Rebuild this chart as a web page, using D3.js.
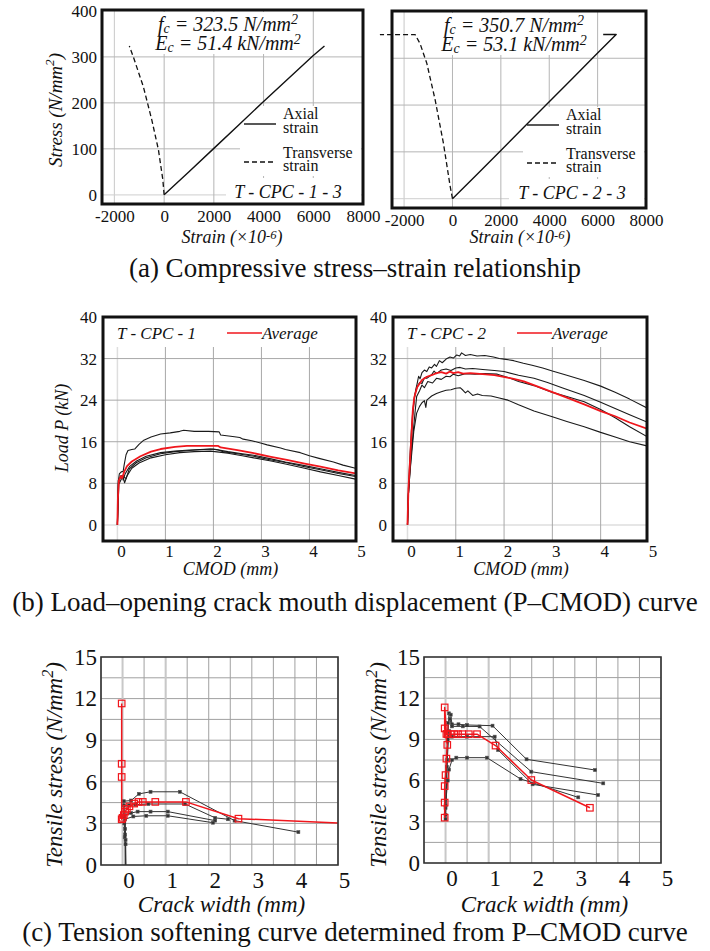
<!DOCTYPE html>
<html><head><meta charset="utf-8">
<script src="https://cdn.jsdelivr.net/npm/d3@7"></script>
<style>
body{margin:0;background:#fff}
svg{display:block}
text{font-family:"Liberation Serif","Times New Roman",serif;fill:#111}
</style>
</head><body>
<svg id="chart" width="710" height="951" font-family="Liberation Serif, Times New Roman, serif"></svg>
<script>
// ---------- DATA ----------
// (a) compressive stress–strain
const strainTicks = [-2000, 0, 2000, 4000, 6000, 8000];
const stressTicks = [0, 100, 200, 300, 400];
const axial13 = [[0,0],[1000,50],[2000,101],[3000,152],[4000,203],[5000,253],[6000,303],[6450,323.5]];
const trans13 = [[0,0],[-53,33],[-230,98],[-497,163],[-836,235],[-1240,300],[-1400,323.5]];
const axial23 = [[0,0],[1000,51],[2000,103],[3000,155],[4000,207],[5000,259],[6000,311],[6766,350.7],[6230,350.7]];
const trans23 = [[0,0],[-95,26],[-373,118],[-716,211],[-1060,289],[-1337,331],[-1545,350.7],[-3000,350.7]];

// (b) P–CMOD
const cmodTicks = [0, 1, 2, 3, 4, 5];
const loadTicks = [0, 8, 16, 24, 32, 40];
const cpc1S1 = [[0,0],[0.01,5],[0.02,8.5],[0.04,9.8],[0.08,10.2],[0.12,10.3],[0.14,11.5],[0.18,13.5],[0.22,14.3],[0.3,14.5],[0.36,14.6],[0.45,15.5],[0.55,16.3],[0.7,16.9],[0.9,17.5],[1.1,17.7],[1.3,18.0],[1.38,18.2],[1.6,18.0],[1.9,18.0],[2.12,17.9],[2.15,17.3],[2.4,17.0],[2.55,16.8],[2.62,16.5],[2.8,16.2],[3.0,15.7],[3.12,15.4],[3.4,14.8],[3.5,14.5],[3.81,13.9],[4.0,13.3],[4.2,12.8],[4.5,12.1],[4.7,11.5],[4.96,10.9]];
const cpc1S2 = [[0,0],[0.02,8.0],[0.06,9.3],[0.1,9.5],[0.12,8.6],[0.16,9.8],[0.25,11.2],[0.4,12.3],[0.6,13.2],[0.9,13.9],[1.2,14.2],[1.5,14.4],[1.94,14.6],[2.1,14.4],[2.2,14.1],[2.5,13.7],[2.84,13.2],[3.2,12.5],[3.5,12.0],[3.9,11.2],[4.23,10.6],[4.6,9.9],[4.96,9.3]];
const cpc1S3 = [[0,0],[0.03,7.8],[0.08,8.8],[0.12,9.2],[0.15,8.1],[0.2,9.4],[0.3,10.9],[0.45,11.9],[0.7,12.9],[1.0,13.5],[1.3,13.9],[1.6,14.1],[1.94,14.2],[2.3,13.8],[2.6,13.3],[2.84,12.9],[3.2,12.3],[3.5,11.7],[3.9,10.9],[4.23,10.2],[4.6,9.5],[4.96,8.8]];
const cpc1S4 = [[0,0],[0.02,8.6],[0.07,9.2],[0.12,9.4],[0.18,8.9],[0.25,10.8],[0.4,12.0],[0.6,12.9],[0.9,13.7],[1.2,14.1],[1.5,14.3],[1.8,14.5],[2.0,14.6],[2.3,14.1],[2.6,13.7],[2.84,13.4],[3.2,12.7],[3.5,12.1],[3.9,11.4],[4.23,10.8],[4.6,10.1],[4.96,9.5]];
const cpc1Avg = [[0,0],[0.01,5],[0.03,8.5],[0.07,9.4],[0.1,9.0],[0.14,10.2],[0.2,11.3],[0.3,12.2],[0.48,13.2],[0.7,14.1],[0.9,14.6],[1.2,15.0],[1.45,15.2],[1.8,15.2],[2.1,15.2],[2.15,14.9],[2.5,14.4],[2.84,13.8],[3.2,13.1],[3.53,12.5],[3.9,11.8],[4.23,11.2],[4.6,10.5],[4.96,9.9]];
const cpc2S1 = [[0,0],[0.02,6],[0.05,11],[0.08,16],[0.11,21],[0.14,24],[0.17,26],[0.2,27.2],[0.23,28.6],[0.26,28.1],[0.3,29.3],[0.35,29.8],[0.4,29.5],[0.45,30.4],[0.5,30.2],[0.56,30.9],[0.6,30.5],[0.66,31.6],[0.72,31.2],[0.8,31.9],[0.88,32.3],[0.95,32.1],[1.02,32.7],[1.08,32.5],[1.12,33.1],[1.2,32.6],[1.3,32.8],[1.44,32.5],[1.6,32.6],[1.78,32.3],[1.9,32.0],[2.0,31.9],[2.2,31.6],[2.4,31.1],[2.58,30.7],[2.8,30.2],[3.0,29.6],[3.3,28.8],[3.66,27.8],[4.0,26.7],[4.3,25.5],[4.6,24.2],[4.96,22.5]];
const cpc2S2 = [[0,0],[0.02,7],[0.05,13],[0.08,18],[0.11,22],[0.15,25],[0.2,26.5],[0.25,27.4],[0.3,27.2],[0.35,28.3],[0.4,28.2],[0.5,28.9],[0.55,29.6],[0.6,29.1],[0.7,29.8],[0.8,30.0],[0.9,29.7],[1.0,30.2],[1.09,30.3],[1.2,30.0],[1.35,30.1],[1.56,29.9],[1.8,29.7],[2.0,29.5],[2.3,28.8],[2.62,28.2],[2.9,27.4],[3.2,26.4],[3.66,24.9],[4.0,23.6],[4.3,22.4],[4.6,21.2],[4.96,19.8]];
const cpc2S3 = [[0,0],[0.02,6],[0.05,10],[0.08,14],[0.12,18],[0.16,22],[0.19,24.7],[0.25,25.8],[0.3,26.9],[0.35,26.4],[0.42,27.6],[0.52,27.3],[0.6,28.2],[0.7,28.0],[0.8,28.6],[0.88,28.5],[0.95,29.0],[1.05,28.7],[1.2,29.1],[1.4,29.0],[1.6,29.1],[1.86,29.0],[2.1,28.3],[2.3,27.6],[2.62,26.8],[3.0,25.5],[3.3,24.7],[3.66,23.7],[4.0,22.2],[4.3,20.6],[4.6,18.9],[4.96,17.0]];
const cpc2S4 = [[0,0],[0.02,6],[0.05,10],[0.09,14],[0.13,18],[0.19,21.5],[0.25,22.8],[0.3,23.5],[0.35,23.9],[0.38,22.6],[0.4,24.0],[0.5,24.8],[0.6,25.3],[0.7,25.6],[0.8,25.9],[0.9,26.0],[1.0,26.3],[1.09,26.4],[1.15,25.9],[1.2,25.4],[1.25,25.8],[1.35,24.9],[1.45,25.2],[1.55,24.9],[1.73,24.8],[1.9,24.4],[2.08,24.0],[2.3,23.1],[2.62,21.9],[3.0,20.8],[3.3,19.9],[3.66,18.9],[4.0,17.8],[4.3,16.9],[4.6,16.0],[4.96,15.2]];
const cpc2Avg = [[0,0],[0.02,7],[0.05,12],[0.08,17],[0.11,22],[0.14,24.5],[0.2,26.5],[0.3,27.9],[0.4,28.5],[0.5,28.8],[0.6,29.2],[0.7,29.4],[0.8,29.1],[0.88,29.5],[0.95,29.2],[1.05,29.4],[1.15,29.1],[1.3,29.2],[1.56,29.0],[1.8,28.8],[1.99,28.5],[2.2,28.1],[2.41,27.6],[2.7,26.6],[2.96,25.7],[3.3,24.5],[3.66,23.2],[4.0,21.9],[4.3,20.9],[4.6,19.7],[4.96,18.5]];

// (c) tension softening
const crackTicks = [0, 1, 2, 3, 4, 5];
const tensileTicks = [0, 3, 6, 9, 12, 15];
const soft1A = [[0.07,0],[0.07,1.5],[0.05,2.0],[0.04,3.0],[0.03,4.6],[0.2,4.65],[0.38,5.13],[0.65,5.28],[1.33,5.28],[2.6,3.2],[4.08,2.37]];
const soft1B = [[0.06,0],[0.06,2.2],[0.04,3.5],[0.03,4.3],[0.15,4.3],[0.3,4.35],[0.6,4.4],[1.45,4.4],[2.15,3.4],[2.45,3.3]];
const soft1C = [[0.07,0],[0.06,2.6],[0.05,3.6],[0.2,3.75],[0.35,3.85],[0.65,3.85],[1.05,3.85],[2.15,3.2]];
const soft1D = [[0.08,0],[0.07,1.8],[0.06,3.3],[0.25,3.5],[0.55,3.55],[1.05,3.55],[2.1,3.05]];
const soft1Avg = [[-0.02,11.65],[-0.02,7.3],[-0.02,6.35],[-0.02,3.3],[0.0,3.4],[0.03,3.6],[0.06,3.85],[0.1,4.05],[0.16,4.23],[0.27,4.43],[0.37,4.55],[0.47,4.55],[0.76,4.55],[1.47,4.55],[2.69,3.34],[5.0,3.03]];
const soft2A = [[0,3.2],[0.02,6],[0.05,9],[0.08,10.9],[0.12,10.8],[0.15,10.1],[0.3,10.1],[0.5,10.05],[1.09,10.0],[1.88,7.55],[3.47,6.77]];
const soft2B = [[0,3.5],[0.03,7],[0.06,10.2],[0.1,10.5],[0.15,9.95],[0.4,9.95],[0.79,9.94],[1.99,6.65],[3.66,5.8]];
const soft2C = [[0,4],[0.04,7.5],[0.08,9.6],[0.15,9.2],[0.5,9.2],[1.14,9.2],[1.22,8.23],[2.02,5.73],[3.54,4.95]];
const soft2D = [[0,4.2],[0.05,6.0],[0.08,6.8],[0.15,7.5],[0.25,7.67],[0.5,7.67],[0.96,7.67],[1.74,6.12],[3.08,4.78]];
const soft2Avg = [[-0.02,3.3],[-0.02,4.4],[-0.02,5.6],[0,6.4],[0.02,7.6],[0.04,8.6],[-0.02,9.8],[-0.02,11.33],[0.02,9.4],[0.05,9.38],[0.12,9.38],[0.2,9.38],[0.29,9.38],[0.39,9.38],[0.54,9.38],[0.73,9.38],[1.16,8.55],[1.99,6.04],[3.35,4.02]];

// ---------- DRAWING ----------
const RED = "#f0161c";
const SERIF = '"Liberation Serif","Times New Roman",serif';
const svg = d3.select("#chart");
let clipN = 0;

function makePanel(o) {
  const x = d3.scaleLinear().domain(o.xd).range([o.x0, o.x1]);
  const y = d3.scaleLinear().domain(o.yd).range([o.y1, o.y0]);
  const id = "clip" + (clipN++);
  svg.append("clipPath").attr("id", id).append("rect")
    .attr("x", o.x0).attr("y", o.y0).attr("width", o.x1 - o.x0).attr("height", o.y1 - o.y0);
  const g = svg.append("g");
  return { x, y, g, o, clip: `url(#${id})` };
}
function vgrid(p, vals, color, w) {
  p.g.append("g").selectAll("line").data(vals).join("line")
    .attr("x1", d => p.x(d)).attr("x2", d => p.x(d))
    .attr("y1", p.o.y0).attr("y2", p.o.y1)
    .attr("stroke", color).attr("stroke-width", w);
}
function hgrid(p, vals, color, w) {
  p.g.append("g").selectAll("line").data(vals).join("line")
    .attr("y1", d => p.y(d)).attr("y2", d => p.y(d))
    .attr("x1", p.o.x0).attr("x2", p.o.x1)
    .attr("stroke", color).attr("stroke-width", w);
}
function whiteBox(p, x, y, w, h) {
  p.g.append("rect").attr("x", x).attr("y", y).attr("width", w).attr("height", h).attr("fill", "#fff");
}
function curve(p, data, color, w, dash, clip) {
  const line = d3.line().x(d => p.x(d[0])).y(d => p.y(d[1]));
  const path = p.g.append("path").datum(data).attr("d", line)
    .attr("fill", "none").attr("stroke", color).attr("stroke-width", w)
    .attr("stroke-linejoin", "round");
  if (dash) path.attr("stroke-dasharray", dash);
  if (clip) path.attr("clip-path", p.clip);
}
function markers(p, data, size, stroke, fill, sw) {
  p.g.append("g").selectAll("rect").data(data).join("rect")
    .attr("x", d => p.x(d[0]) - size / 2).attr("y", d => p.y(d[1]) - size / 2)
    .attr("width", size).attr("height", size)
    .attr("fill", fill).attr("stroke", stroke).attr("stroke-width", sw);
}
function frame(p, color, w) {
  p.g.append("rect").attr("x", p.o.x0).attr("y", p.o.y0)
    .attr("width", p.o.x1 - p.o.x0).attr("height", p.o.y1 - p.o.y0)
    .attr("fill", "none").attr("stroke", color).attr("stroke-width", w);
}
function styleAxis(a, size) {
  a.attr("font-family", SERIF).attr("font-size", size);
  a.select(".domain").remove();
  a.selectAll("text").attr("font-size", size).style("font-family", SERIF).attr("fill", "#111");
}
function xAxis(p, vals, size, pad, shift) {
  const ax = d3.axisBottom(p.x).tickValues(vals).tickSize(0).tickPadding(pad).tickFormat(d => String(d));
  const a = p.g.append("g").attr("transform", `translate(0,${p.o.y1})`).call(ax);
  styleAxis(a, size);
  if (shift) a.selectAll("text").attr("dx", shift);
}
function yAxis(p, vals, size, pad) {
  const a = p.g.append("g").attr("transform", `translate(${p.o.x0},0)`)
    .call(d3.axisLeft(p.y).tickValues(vals).tickSize(0).tickPadding(pad).tickFormat(d => String(d)));
  styleAxis(a, size);
}
// rich text: parts = [[text, kind]] kind: "", "sub", "sup"
function rich(parent, x, y, size, parts, opts = {}) {
  const t = parent.append("text").attr("x", x).attr("y", y).attr("font-size", size)
    .attr("text-anchor", opts.anchor || "middle").style("font-family", SERIF);
  if (opts.italic) t.attr("font-style", "italic");
  if (opts.rotate) t.attr("transform", `rotate(-90,${x},${y})`);
  let shift = 0;
  const supUp = opts.supUp != null ? opts.supUp : 0.4;
  const subDown = opts.subDown != null ? opts.subDown : 0.22;
  parts.forEach(([s, k]) => {
    const ts = t.append("tspan").text(s);
    let target = 0;
    if (k === "sub") { target = size * subDown; ts.attr("font-size", size * 0.7); }
    if (k === "sup") { target = -size * supUp; ts.attr("font-size", size * 0.7); }
    if (target !== shift) { ts.attr("dy", target - shift); shift = target; }
  });
  return t;
}
function plainText(x, y, size, s, opts = {}) {
  const t = svg.append("text").attr("x", x).attr("y", y).attr("font-size", size)
    .attr("text-anchor", opts.anchor || "start").style("font-family", SERIF).text(s);
  if (opts.italic) t.attr("font-style", "italic");
  return t;
}

// ===== (a) =====
function panelA(o, axial, trans, ann1, ann2, label, showY) {
  const p = makePanel(o);
  hgrid(p, [stressTicks[0]], "#d8d8d8", 1.2);
  vgrid(p, [strainTicks[0]], "#d0d0d0", 1.2);
  vgrid(p, strainTicks.slice(1, 5), "#b5b5b5", 1);
  hgrid(p, stressTicks.slice(1, 4), "#b5b5b5", 1);
  const lx = o.legX;
  whiteBox(p, o.annX - 80, o.y0 + 2, 160, 42);
  whiteBox(p, lx - 4, o.y0 + 96, o.x1 - lx + 2, 70);
  whiteBox(p, lx - 18, o.y0 + 168, o.x1 - lx + 16, o.y1 - o.y0 - 169);
  curve(p, axial, "#111", 1.4, null, false);
  curve(p, trans, "#111", 1.3, "5,3", false);
  frame(p, "#111", 3);
  if (showY) yAxis(p, stressTicks, 17, 5);
  xAxis(p, strainTicks, 17, 6, 0);
  // annotation
  rich(svg, o.annX, o.y0 + 21, 20, [["f",""],["c","sub"],[" = " + ann1 + " N/mm",""],["2","sup"]], { italic: true, subDown: 0.1, supUp: 0.35 });
  rich(svg, o.annX, o.y0 + 40, 20, [["E",""],["c","sub"],[" = " + ann2 + " kN/mm",""],["2","sup"]], { italic: true, subDown: 0.1, supUp: 0.3 });
  // legend
  const ly1 = o.y0 + 114, ly2 = o.y0 + 152;
  svg.append("line").attr("x1", lx).attr("x2", lx + 32).attr("y1", ly1).attr("y2", ly1).attr("stroke", "#111").attr("stroke-width", 1.4);
  svg.append("line").attr("x1", lx).attr("x2", lx + 32).attr("y1", ly2).attr("y2", ly2).attr("stroke", "#111").attr("stroke-width", 1.3).attr("stroke-dasharray", "5,3");
  plainText(lx + 39, ly1 - 5, 16, "Axial");
  plainText(lx + 39, ly1 + 9, 16, "strain");
  plainText(lx + 39, ly2 - 4, 16, "Transverse");
  plainText(lx + 39, ly2 + 9, 16, "strain");
  plainText(o.labX, o.y0 + 188, 18, label, { italic: true, anchor: "middle" });
  rich(svg, o.xTitleX, 243, 18, [["Strain (×10",""],["-6","sup"],[")",""]], { italic: true, supUp: 0.25 });
  return p;
}
panelA({ x0: 102, x1: 363, y0: 10, y1: 204, xd: [-2500, 8000], yd: [-20, 402], annX: 228, legX: 244, labX: 288, xTitleX: 232 },
  axial13, trans13, "323.5", "51.4", "T - CPC - 1 - 3", true);
panelA({ x0: 392, x1: 646, y0: 11, y1: 208, xd: [-2500, 8000], yd: [-20, 401], annX: 514, legX: 527, labX: 572, xTitleX: 520 },
  axial23, trans23, "350.7", "53.1", "T - CPC - 2 - 3", false);
rich(svg, 62, 110, 19, [["Stress (N/mm",""],["2","sup"],[")",""]], { italic: true, rotate: true });
plainText(355, 277, 27, "(a) Compressive stress–strain relationship", { anchor: "middle" });

// ===== (b) =====
function panelB(o, curves, avg, label) {
  const p = makePanel(o);
  vgrid(p, [cmodTicks[0]], "#dedede", 1.5);
  hgrid(p, [loadTicks[0]], "#dedede", 1.5);
  vgrid(p, cmodTicks.slice(1, 5), "#a8a8a8", 1);
  hgrid(p, loadTicks.slice(1, 5), "#a8a8a8", 1);
  whiteBox(p, o.x0, o.y0, o.x1 - o.x0, 30);
  curves.forEach(c => curve(p, c, "#1a1a1a", 1.1, null, true));
  curve(p, avg, RED, 1.8, null, true);
  frame(p, "#111", 3);
  yAxis(p, loadTicks, 17, 6);
  xAxis(p, cmodTicks, 17, 4, 3.5);
  plainText(o.x0 + 14, o.y0 + 22, 17, label, { italic: true });
  svg.append("line").attr("x1", o.x0 + 124).attr("x2", o.x0 + 159).attr("y1", o.y0 + 16).attr("y2", o.y0 + 16).attr("stroke", RED).attr("stroke-width", 1.6);
  plainText(o.x0 + 159, o.y0 + 22, 17, "Average", { italic: true });
  plainText((o.x0 + o.x1) / 2 + 1, 575, 18, "CMOD (mm)", { italic: true, anchor: "middle" });
}
panelB({ x0: 103, x1: 356, y0: 317, y1: 541, xd: [-0.3, 4.97], yd: [-3.1, 40] },
  [cpc1S1, cpc1S2, cpc1S3, cpc1S4], cpc1Avg, "T - CPC - 1");
panelB({ x0: 393, x1: 647, y0: 317, y1: 541, xd: [-0.3, 4.96], yd: [-3.1, 40] },
  [cpc2S1, cpc2S2, cpc2S3, cpc2S4], cpc2Avg, "T - CPC - 2");
plainText(68, 428, 18, "Load P (kN)", { italic: true, anchor: "middle" }).attr("transform", "rotate(-90,68,428)");
plainText(355, 611, 27, "(b) Load–opening crack mouth displacement (P–CMOD) curve", { anchor: "middle" });

// ===== (c) =====
function panelC(o, curves, avg, titleX) {
  const p = makePanel(o);
  vgrid(p, d3.range(-0.5, 5.01, 0.5), "#a0a0a0", 1);
  hgrid(p, d3.range(1.5, 15, 1.5), "#a0a0a0", 1);
  vgrid(p, [crackTicks[0], crackTicks[1]], "#c8c8c8", 2);
  curves.forEach(c => {
    curve(p, c, "#333", 1, null, true);
    markers(p, c.filter(d => d[1] > 0), 3, "#555", "#333", 0.6);
  });
  curve(p, avg, RED, 1.5, null, true);
  markers(p, avg.filter(d => d[0] < 4.99), 6.5, RED, "none", 1.2);
  frame(p, "#333", 1.6);
  yAxis(p, tensileTicks, 23, 4);
  xAxis(p, crackTicks, 23, 7, 6);
  plainText((o.x0 + o.x1) / 2 + 2, 912, 23, "Crack width (mm)", { italic: true, anchor: "middle" });
  rich(svg, titleX, 765, 23, [["Tensile stress (N/mm",""],["2","sup"],[")",""]], { italic: true, rotate: true });
}
panelC({ x0: 101, x1: 338, y0: 657, y1: 865, xd: [-0.5, 5], yd: [0, 15] },
  [soft1A, soft1B, soft1C, soft1D], soft1Avg, 62);
panelC({ x0: 424, x1: 661, y0: 657, y1: 863, xd: [-0.5, 5], yd: [0, 15] },
  [soft2A, soft2B, soft2C, soft2D], soft2Avg, 386);
plainText(355, 941, 27, "(c) Tension softening curve determined from P–CMOD curve", { anchor: "middle" });
</script>
</body></html>
